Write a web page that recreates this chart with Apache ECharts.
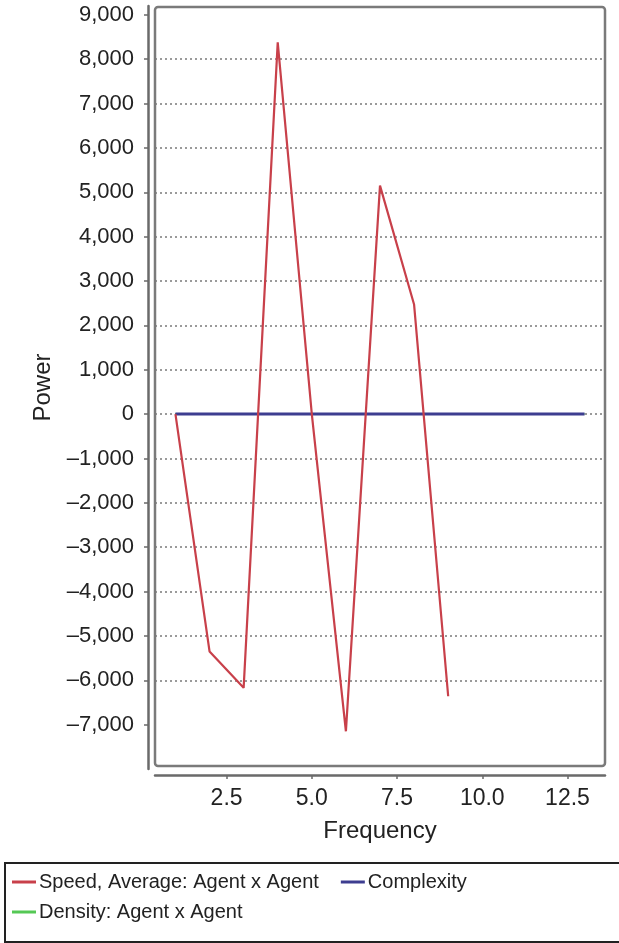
<!DOCTYPE html>
<html>
<head>
<meta charset="utf-8">
<script src="https://cdn.jsdelivr.net/npm/echarts@6/dist/echarts.min.js"></script>
<style>html,body{margin:0;padding:0;background:#fff}#c{width:619px;height:943px}</style>
</head>
<body>
<div id="c"></div>
<script>
const frequency = [1, 2, 3, 4, 5, 6, 7, 8, 9, 10, 11, 12, 13];
const speedAvg = [0, -5350, -6170, 8380, 0, -7150, 5150, 2470, -6360];
const complexity = [0, 0, 0, 0, 0, 0, 0, 0, 0, 0, 0, 0, 0];
const density = [0, 0, 0, 0, 0, 0, 0, 0, 0, 0, 0, 0, 0];
const yTicks = [-7000, -6000, -5000, -4000, -3000, -2000, -1000, 0, 1000, 2000, 3000, 4000, 5000, 6000, 7000, 8000, 9000];
const xTicks = [2.5, 5.0, 7.5, 10.0, 12.5];
const seriesNames = ['Speed, Average: Agent x Agent', 'Complexity', 'Density: Agent x Agent'];

const pairs = (ys) => ys.map((y, i) => [frequency[i], y]);
const FONT = 'Liberation Sans';
const chart = echarts.init(document.getElementById('c'), null, {renderer: 'canvas'});
const fmtY = v => (v < 0 ? '\u2013' : '') + Math.abs(v).toLocaleString('en-US');

chart.setOption({
  animation: false,
  backgroundColor: '#fff',
  grid: {left: 155, right: 14, top: 6, bottom: 174},
  xAxis: {
    type: 'value', min: 0.4, max: 13.6, offset: 6,
    name: 'Frequency', nameLocation: 'middle', nameGap: 44,
    nameTextStyle: {fontFamily: FONT, fontSize: 24, color: '#222'},
    axisLine: {show: true, onZero: false, lineStyle: {color: '#6a6a6a', width: 2.5}},
    axisTick: {show: true, length: 4, lineStyle: {color: '#6a6a6a', width: 1.5}, customValues: xTicks},
    axisLabel: {fontFamily: FONT, fontSize: 23, color: '#222', margin: 12, customValues: xTicks,
      formatter: v => v.toFixed(1)},
    splitLine: {show: false}
  },
  yAxis: {
    type: 'value', min: -8000, max: 9200, interval: 1000, offset: 7,
    name: 'Power', nameLocation: 'middle', nameGap: 92, nameRotate: 90,
    nameTextStyle: {fontFamily: FONT, fontSize: 24, color: '#222'},
    axisLine: {show: true, onZero: false, lineStyle: {color: '#6a6a6a', width: 2.5}},
    axisTick: {show: true, length: 4, lineStyle: {color: '#6a6a6a', width: 1.5}, customValues: yTicks},
    axisLabel: {fontFamily: FONT, fontSize: 22, color: '#222', margin: 14, customValues: yTicks, formatter: fmtY},
    splitLine: {show: true, showMinLine: false, showMaxLine: false,
      lineStyle: {color: '#9a9a9a', width: 1.8, type: [2, 3]}}
  },
  legend: [
    {data: [seriesNames[0], seriesNames[1]], left: 12, top: 872, padding: 0, itemGap: 22,
      itemWidth: 24, itemHeight: 3, icon: 'rect',
      textStyle: {fontFamily: FONT, fontSize: 20, color: '#222', padding: [0, 0, 0, -2]}},
    {data: [seriesNames[2]], left: 12, top: 902, padding: 0, itemGap: 22,
      itemWidth: 24, itemHeight: 3, icon: 'rect',
      textStyle: {fontFamily: FONT, fontSize: 20, color: '#222', padding: [0, 0, 0, -2]}}
  ],
  graphic: [
    {type: 'rect', shape: {x: 155, y: 7, width: 450, height: 759, r: 3}, z: 100,
      style: {fill: 'none', stroke: '#7a7a7a', lineWidth: 2.5}},
    {type: 'rect', shape: {x: 5, y: 863, width: 640, height: 79}, z: 100,
      style: {fill: 'none', stroke: '#222', lineWidth: 2}}
  ],
  series: [
    {name: seriesNames[2], type: 'line', data: pairs(density), symbol: 'none', z: 1,
      itemStyle: {color: '#55c855'}, lineStyle: {color: '#55c855', width: 2}},
    {name: seriesNames[1], type: 'line', data: pairs(complexity), symbol: 'none', z: 2,
      itemStyle: {color: '#3d3d90'}, lineStyle: {color: '#3d3d90', width: 3}},
    {name: seriesNames[0], type: 'line', data: pairs(speedAvg), symbol: 'none', z: 3,
      itemStyle: {color: '#c8404a'}, lineStyle: {color: '#c8404a', width: 2.2}}
  ]
});
</script>
</body>
</html>
